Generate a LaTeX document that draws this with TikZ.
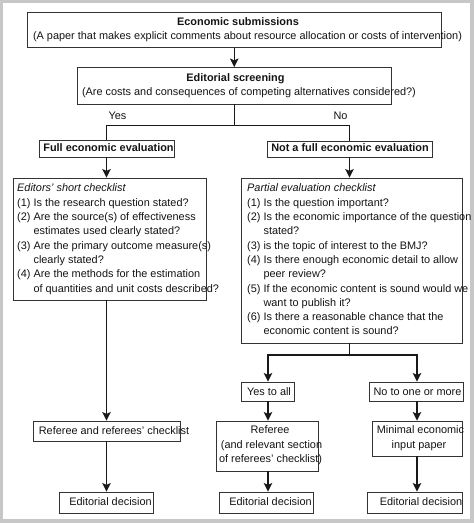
\documentclass[tikz,border=0pt]{standalone}
\usepackage{fontspec}
\setmainfont{Liberation Sans}
\usetikzlibrary{arrows.meta}
\newcommand\mybox[5]{\node[box, minimum width={#4pt-#2pt}, minimum height={#5pt-#3pt}] (#1) at ({(#2+#4)/2},{(#3+#5)/2}) {};}
\begin{document}
\begin{tikzpicture}[x=1pt,y=-1pt,
  box/.style={draw=black!80, line width=0.9pt, inner sep=0pt},
  txt/.style={inner sep=0pt, font=\fontsize{10.9}{14.3}\selectfont, text=black!92},
  tb/.style={txt, anchor=base},
  conn/.style={line width=1.5pt, draw=black!90},
  arr/.style={conn, -{Stealth[length=8.5pt,width=8.5pt,inset=1.8pt]}}]
\fill[black!22] (0,0) rectangle (474,523);
\fill[white] (2.5,2.5) rectangle (470,519);
% boxes
\mybox{b1}{27}{12}{441}{47.5}
\mybox{b2}{77}{67.5}{391.5}{104}
\mybox{full}{39}{140}{174}{157}
\mybox{notfull}{267}{141}{432}{157}
\mybox{edcheck}{13}{178}{206}{300}
\mybox{partial}{241}{178}{462}{343}
\mybox{refL}{33}{421}{180}{441}
\mybox{ed1}{59}{492}{153}{513}
\mybox{yesall}{241}{382}{294}{401}
\mybox{noone}{369}{382}{463}{401}
\mybox{refM}{216}{421}{318}{471}
\mybox{minimal}{372}{421}{462}{456}
\mybox{ed2}{219}{492}{313}{513}
\mybox{ed3}{367}{492}{462}{513}
% texts
\node[tb] (t1a) at (238,25.5) {\bfseries Economic submissions};
\node[tb] (t1b) at (247.5,39.5) {(A paper that makes explicit comments about resource allocation or costs of intervention)};
\node[tb] (t2a) at (235.5,81.5) {\bfseries Editorial screening};
\node[tb] (t2b) at (249,95.5) {(Are costs and consequences of competing alternatives considered?)};
\node[tb] (yes) at (117.5,119.5) {Yes};
\node[tb] (no) at (340.5,119.5) {No};
\node[tb] (tfull) at (108.5,151.5) {\bfseries Full economic evaluation};
\node[tb] (tnotfull) at (350,151.5) {\bfseries Not a full economic evaluation};
\node[txt, anchor=north west, align=left] (tedcheck) at (17,183.8) {\itshape Editors' short checklist\\
(1) Is the research question stated?\\
(2) Are the source(s) of effectiveness\\
\phantom{(1) }estimates used clearly stated?\\
(3) Are the primary outcome measure(s)\\
\phantom{(1) }clearly stated?\\
(4) Are the methods for the estimation\\
\phantom{(1) }of quantities and unit costs described?};
\node[txt, anchor=north west, align=left] (tpartial) at (247,183.8) {\itshape Partial evaluation checklist\\
(1) Is the question important?\\
(2) Is the economic importance of the question\\
\phantom{(1) }stated?\\
(3) is the topic of interest to the BMJ?\\
(4) Is there enough economic detail to allow\\
\phantom{(1) }peer review?\\
(5) If the economic content is sound would we\\
\phantom{(1) }want to publish it?\\
(6) Is there a reasonable chance that the\\
\phantom{(1) }economic content is sound?};
\node[tb] (trefL) at (114,434.5) {Referee and referees' checklist};
\node[tb] (ted1) at (110.5,505.5) {Editorial decision};
\node[tb] (tyesall) at (269,395.5) {Yes to all};
\node[tb] (tnoone) at (417.5,395.5) {No to one or more};
\node[tb] (trefMa) at (270,433.5) {Referee};
\node[tb] (trefMb) at (271.5,448) {(and relevant section};
\node[tb] (trefMc) at (270.5,462.5) {of referees' checklist)};
\node[tb] (tmina) at (420.5,433.5) {Minimal economic};
\node[tb] (tminb) at (419,448) {input paper};
\node[tb] (ted2) at (270.5,505.5) {Editorial decision};
\node[tb] (ted3) at (421,505.5) {Editorial decision};
% connectors
\coordinate (s1) at (234.3,125.5);
\coordinate (sL) at (106.5,125.5);
\coordinate (sR) at (349.5,125.5);
\draw[arr] (b1.south -| b2.north) -- (b2.north);
\draw[conn] (b2.south -| s1) -- (s1);
\draw[conn] (full.north) -- (sL) -- (sR) -- (notfull.north -| sR);
\draw[arr] (full.south) -- (full.south |- edcheck.north);
\draw[arr] (notfull.south -| sR) -- (sR |- partial.north);
\draw[arr] (full.south |- edcheck.south) -- (refL.north);
\draw[arr] (refL.south) -- (refL.south |- ed1.north);
\coordinate (p1) at (349.5,355);
\coordinate (pL) at (268,355);
\coordinate (pR) at (417,355);
\draw[arr] (partial.south -| p1) |- (pL) -- (pL |- yesall.north);
\draw[arr] (p1) -| (pR |- noone.north);
\draw[arr] (pL |- yesall.south) -- (pL |- refM.north);
\draw[arr] (pR |- noone.south) -- (pR |- minimal.north);
\draw[arr] (pL |- refM.south) -- (pL |- ed2.north);
\draw[arr] (pR |- minimal.south) -- (pR |- ed3.north);
\end{tikzpicture}
\end{document}
